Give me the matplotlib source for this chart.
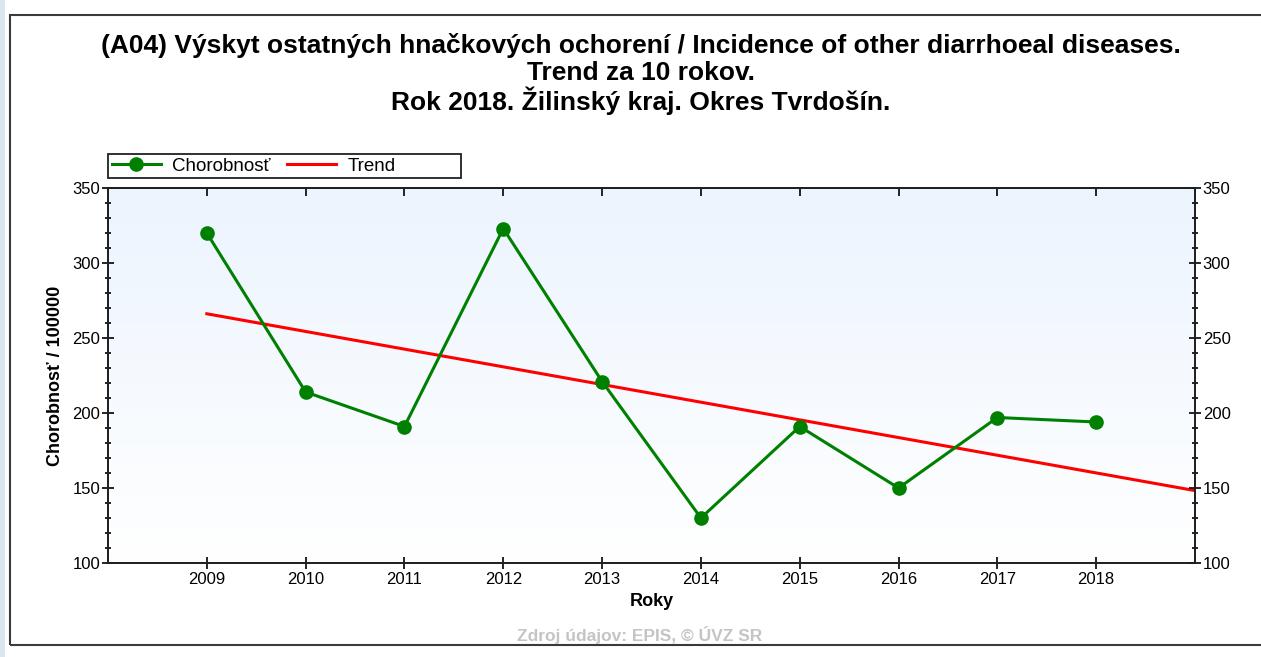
import numpy as np
import matplotlib
matplotlib.use("Agg")
from matplotlib import pyplot as plt
from matplotlib.patches import Rectangle
from matplotlib.ticker import MultipleLocator

plt.rcParams['font.family'] = ['Liberation Sans', 'DejaVu Sans']

# údaje z grafu
roky = [2009, 2010, 2011, 2012, 2013, 2014, 2015, 2016, 2017, 2018]
chorobnost = [320, 214, 191, 323, 221, 130, 191, 150, 197, 194]
trend_roky = [2009, 2019]

title_lines = ["(A04) Výskyt ostatných hnačkových ochorení / Incidence of other diarrhoeal diseases.",
               "Trend za 10 rokov.",
               "Rok 2018. Žilinský kraj. Okres Tvrdošín."]

# lineárny trend
k, q = np.polyfit(roky, chorobnost, 1)
trend = [k * r + q for r in trend_roky]

fig = plt.figure(figsize=(12.61, 6.57), dpi=100)
W, H = 1261, 657

# rám okolo celého grafu
fig.patches.append(Rectangle((10 / W, 1 - 645 / H), 1.0, (645 - 15) / H, transform=fig.transFigure,
                             fill=False, edgecolor='#3a3a3a', lw=1.5))
fig.patches.append(Rectangle((0, 0), 5 / W, 1, transform=fig.transFigure,
                             facecolor='#dbe5ef', edgecolor='none'))

ax = fig.add_axes([108 / W, 1 - 563 / H, (1195 - 108) / W, (563 - 188) / H])

# gradient pozadia
grad = np.linspace(0, 1, 256).reshape(-1, 1)
c_top = np.array([0.925, 0.957, 0.996])
c_bot = np.array([1.0, 1.0, 1.0])
img = c_top + (c_bot - c_top) * grad[:, :, None]
ax.imshow(img, extent=[0, 1, 0, 1], transform=ax.transAxes, aspect='auto', zorder=0)

ax.plot(trend_roky, trend, color='#ff0000', lw=2.2, zorder=3, label='Trend')
ax.plot(roky, chorobnost, color='#008000', lw=2.2, marker='o', ms=9.5, zorder=4, label='Chorobnosť')

ax.set_xlim(2008, 2019)
ax.set_ylim(100, 350)
ax.set_xticks(roky)
ax.yaxis.set_major_locator(MultipleLocator(50))
ax.yaxis.set_minor_locator(MultipleLocator(10))

ax.tick_params(axis='y', which='major', direction='inout', length=9, width=1.2, labelsize=12, pad=1)
ax.tick_params(axis='y', which='minor', direction='inout', length=5, width=1.2)
ax.tick_params(axis='x', which='major', direction='inout', length=9, width=1.2, labelsize=12,
               top=False, pad=2)
for s in ax.spines.values():
    s.set_linewidth(1.3)
    s.set_color('#202020')

top = ax.secondary_xaxis('top')
top.set_xticks(roky)
top.tick_params(direction='in', length=6, width=1.2, labeltop=False)
top.spines['top'].set_linewidth(1.3)
top.spines['top'].set_color('#202020')

ax2 = ax.twinx()
ax2.set_ylim(100, 350)
ax2.yaxis.set_major_locator(MultipleLocator(50))
ax2.yaxis.set_minor_locator(MultipleLocator(10))
ax2.tick_params(axis='y', which='major', direction='inout', length=9, width=1.2, labelsize=12, pad=1)
ax2.tick_params(axis='y', which='minor', direction='inout', length=5, width=1.2)
for s in ax2.spines.values():
    s.set_linewidth(1.3)
    s.set_color('#202020')

ax.set_ylabel('Chorobnosť / 100000', fontsize=13, fontweight='bold', labelpad=6)
ax.set_xlabel('Roky', fontsize=13, fontweight='bold', labelpad=4)

for yy, line in zip([46, 73, 101], title_lines):
    fig.text(641 / W, 1 - yy / H, line, ha='center', va='center', fontsize=19, fontweight='bold')
fig.text(640 / W, 1 - 635 / H, 'Zdroj údajov: EPIS, © ÚVZ SR', ha='center', va='center',
         fontsize=12.5, fontweight='bold', color='#c4c4c4')

# legenda
fig.patches.append(Rectangle((108 / W, 1 - 178 / H), (461 - 108) / W, 24 / H, transform=fig.transFigure,
                             fill=False, edgecolor='#202020', lw=1.3))
h, l = ax.get_legend_handles_labels()
fig.legend(h[::-1], l[::-1], loc='center left', bbox_to_anchor=(112 / W, 1 - 166 / H), ncol=2,
           frameon=False, fontsize=13.5, handlelength=2.6, columnspacing=0.9, handletextpad=0.6,
           borderpad=0, borderaxespad=0)

fig.savefig('out.png', dpi=100)
